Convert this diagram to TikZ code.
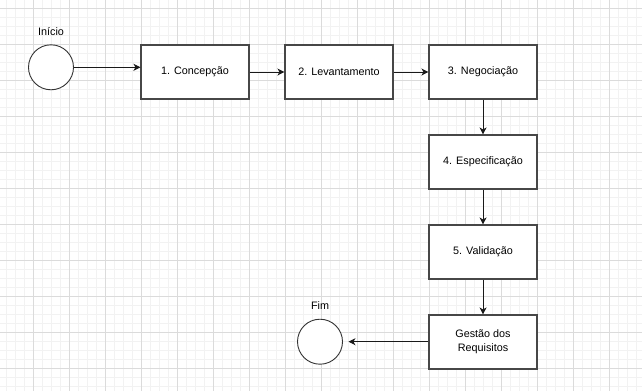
\documentclass[tikz,border=0pt]{standalone}
\usepackage{fontspec}
\setmainfont{Liberation Sans}
\usetikzlibrary{arrows.meta}
\begin{document}
\begin{tikzpicture}[x=1pt,y=-1pt,
  every node/.style={font=\fontsize{10.8}{14}\selectfont, text=black},
  stepbox/.style={draw=black!72, line width=1.1pt, minimum width=108pt,
    minimum height=54pt, inner sep=0pt, fill=white, align=center},
  endpoint/.style={draw=black!80, circle, line width=0.9pt, minimum size=45pt,
    inner sep=0pt, fill=white},
  flow/.style={draw=black!90, line width=0.9pt,
    -{Stealth[length=7pt,width=7pt,inset=2pt]}},
  minorgrid/.style={draw=black!5, line width=1pt},
  majorgrid/.style={draw=black!14, line width=1pt}]
\useasboundingbox (0,0) rectangle (642,391);
\fill[white] (0,0) rectangle (642,391);
% background grid: minor every 9, major every 36
\begin{scope}
  \clip (0,0) rectangle (642,391);
  \foreach \i in {0,...,72} {
    \draw[minorgrid] ({-2.7+9*\i},0) -- ({-2.7+9*\i},391);
  }
  \foreach \j in {-1,...,44} {
    \draw[minorgrid] (0,{8.5+9*\j}) -- (642,{8.5+9*\j});
  }
  \foreach \i in {0,...,18} {
    \draw[majorgrid] ({-2.7+36*\i},0) -- ({-2.7+36*\i},391);
  }
  \foreach \j in {0,...,11} {
    \draw[majorgrid] (0,{8.5+36*\j}) -- (642,{8.5+36*\j});
  }
\end{scope}

% start and end points
\node[endpoint] (inicio) at (51,67.3) {};
\node (linicio) at (51,31.5) {Início};
\node[endpoint] (fim) at (320,341.7) {};
\node (lfim) at (320,306) {Fim};

% process steps
\node[stepbox] (b1) at (195,72) {1. Concepção};
\node[stepbox] (b2) at (339,72) {2. Levantamento};
\node[stepbox] (b3) at (483,72) {3. Negociação};
\node[stepbox] (b4) at (483,162) {4. Especificação};
\node[stepbox] (b5) at (483,252) {5. Validação};
\node[stepbox] (b6) at (483,342) {Gestão dos\\Requisitos};

% connectors
\draw[flow] (inicio) -- (inicio -| b1.west);
\draw[flow] (b1) -- (b2);
\draw[flow] (b2) -- (b3);
\draw[flow] (b3) -- (b4);
\draw[flow] (b4) -- (b5);
\draw[flow] (b5) -- (b6);
\draw[flow, shorten >=5.5pt] (b6.west |- fim) -- (fim);
\end{tikzpicture}
\end{document}
